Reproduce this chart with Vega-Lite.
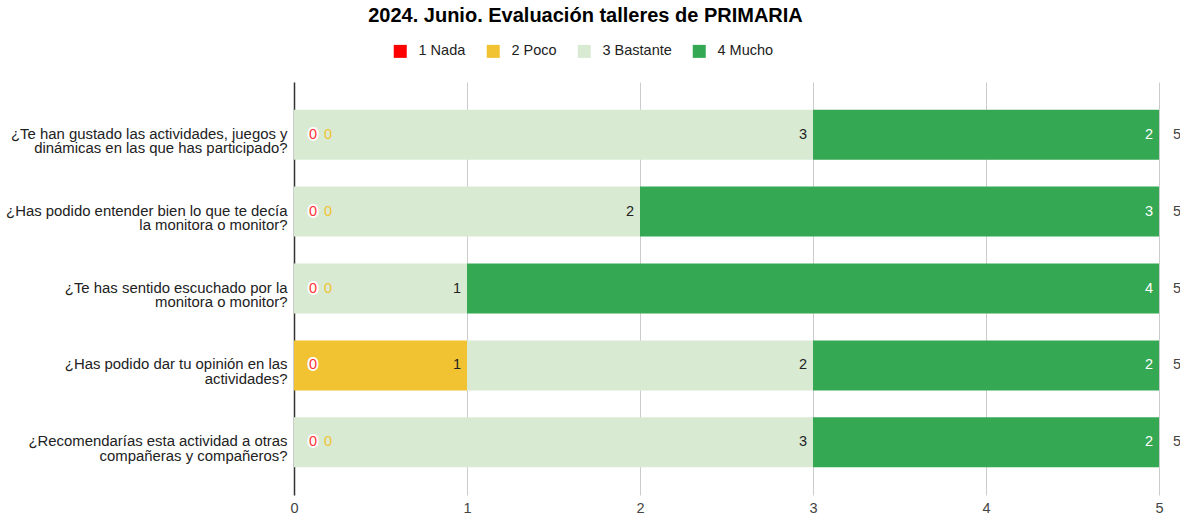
{
  "$schema": "https://vega.github.io/schema/vega-lite/v6.json",
  "autosize": {"type": "none"},
  "width": 865,
  "height": 413,
  "padding": {"left": 294, "top": 82, "right": 21, "bottom": 19},
  "background": "white",
  "title": {
    "text": "2024. Junio. Evaluación talleres de PRIMARIA",
    "anchor": "middle",
    "dx": -141,
    "offset": 18,
    "fontSize": 20,
    "fontWeight": "bold",
    "font": "Liberation Sans",
    "color": "#000000"
  },
  "config": {
    "font": "Liberation Sans",
    "view": {"stroke": null},
    "text": {"font": "Liberation Sans", "fontSize": 14.5}
  },
  "data": {
    "values": [
      {"q": "¿Te han gustado las actividades, juegos y|dinámicas en las que has participado?", "cat": "1 Nada", "value": 0},
      {"q": "¿Te han gustado las actividades, juegos y|dinámicas en las que has participado?", "cat": "2 Poco", "value": 0},
      {"q": "¿Te han gustado las actividades, juegos y|dinámicas en las que has participado?", "cat": "3 Bastante", "value": 3},
      {"q": "¿Te han gustado las actividades, juegos y|dinámicas en las que has participado?", "cat": "4 Mucho", "value": 2},
      {"q": "¿Has podido entender bien lo que te decía|la monitora o monitor?", "cat": "1 Nada", "value": 0},
      {"q": "¿Has podido entender bien lo que te decía|la monitora o monitor?", "cat": "2 Poco", "value": 0},
      {"q": "¿Has podido entender bien lo que te decía|la monitora o monitor?", "cat": "3 Bastante", "value": 2},
      {"q": "¿Has podido entender bien lo que te decía|la monitora o monitor?", "cat": "4 Mucho", "value": 3},
      {"q": "¿Te has sentido escuchado por la|monitora o monitor?", "cat": "1 Nada", "value": 0},
      {"q": "¿Te has sentido escuchado por la|monitora o monitor?", "cat": "2 Poco", "value": 0},
      {"q": "¿Te has sentido escuchado por la|monitora o monitor?", "cat": "3 Bastante", "value": 1},
      {"q": "¿Te has sentido escuchado por la|monitora o monitor?", "cat": "4 Mucho", "value": 4},
      {"q": "¿Has podido dar tu opinión en las|actividades?", "cat": "1 Nada", "value": 0},
      {"q": "¿Has podido dar tu opinión en las|actividades?", "cat": "2 Poco", "value": 1},
      {"q": "¿Has podido dar tu opinión en las|actividades?", "cat": "3 Bastante", "value": 2},
      {"q": "¿Has podido dar tu opinión en las|actividades?", "cat": "4 Mucho", "value": 2},
      {"q": "¿Recomendarías esta actividad a otras|compañeras y compañeros?", "cat": "1 Nada", "value": 0},
      {"q": "¿Recomendarías esta actividad a otras|compañeras y compañeros?", "cat": "2 Poco", "value": 0},
      {"q": "¿Recomendarías esta actividad a otras|compañeras y compañeros?", "cat": "3 Bastante", "value": 3},
      {"q": "¿Recomendarías esta actividad a otras|compañeras y compañeros?", "cat": "4 Mucho", "value": 2}
    ]
  },
  "transform": [
    {"stack": "value", "groupby": ["q"], "sort": [{"field": "cat", "order": "ascending"}], "as": ["v0", "v1"]}
  ],
  "encoding": {
    "y": {
      "field": "q",
      "type": "nominal",
      "sort": null,
      "title": null,
      "scale": {"paddingInner": 0.35, "paddingOuter": 0.36},
      "axis": {
        "labelExpr": "split(datum.label, '|')",
        "labelFontSize": 14.9,
        "labelColor": "#222222",
        "labelLineHeight": 14.5,
        "labelLimit": 400,
        "labelPadding": 7,
        "ticks": false,
        "domain": true,
        "domainColor": "#333333",
        "domainWidth": 1.5,
        "grid": false
      }
    }
  },
  "layer": [
    {
      "mark": {"type": "bar"},
      "encoding": {
        "x": {
          "field": "v0",
          "type": "quantitative",
          "title": null,
          "scale": {"domain": [0, 5], "nice": false},
          "axis": {
            "values": [0, 1, 2, 3, 4, 5],
            "format": "d",
            "labelFlush": false,
            "grid": true,
            "gridColor": "#cccccc",
            "domain": false,
            "ticks": false,
            "labelFontSize": 14.5,
            "labelColor": "#444444",
            "labelPadding": 6
          }
        },
        "x2": {"field": "v1"},
        "color": {
          "field": "cat",
          "type": "nominal",
          "scale": {
            "domain": ["1 Nada", "2 Poco", "3 Bastante", "4 Mucho"],
            "range": ["#ff0000", "#f1c232", "#d9ead3", "#34a853"]
          },
          "legend": {
            "title": null,
            "orient": "none",
            "direction": "horizontal",
            "legendX": 99,
            "legendY": -38,
            "symbolType": "square",
            "symbolSize": 169,
            "symbolStrokeWidth": 0,
            "labelFontSize": 14.5,
            "labelColor": "#222222",
            "labelOffset": 11,
            "columnPadding": 20
          }
        }
      }
    },
    {
      "transform": [{"filter": "datum.value > 0"}],
      "mark": {"type": "text", "align": "right", "baseline": "middle", "dx": -6},
      "encoding": {
        "x": {"field": "v1", "type": "quantitative"},
        "text": {"field": "value", "type": "quantitative"},
        "color": {"condition": {"test": "datum.cat === '4 Mucho'", "value": "#ffffff"}, "value": "#222222"}
      }
    },
    {
      "transform": [{"filter": "datum.value == 0 && datum.cat === '1 Nada'"}],
      "mark": {"type": "text", "align": "center", "baseline": "middle", "dx": 19, "fill": "#ffffff", "stroke": "#ffffff", "strokeWidth": 4},
      "encoding": {
        "x": {"field": "v1", "type": "quantitative"},
        "text": {"field": "value", "type": "quantitative"}
      }
    },
    {
      "transform": [{"filter": "datum.value == 0 && datum.cat === '1 Nada'"}],
      "mark": {"type": "text", "align": "center", "baseline": "middle", "dx": 19, "color": "#ff3333"},
      "encoding": {
        "x": {"field": "v1", "type": "quantitative"},
        "text": {"field": "value", "type": "quantitative"}
      }
    },
    {
      "transform": [{"filter": "datum.value == 0 && datum.cat === '2 Poco'"}],
      "mark": {"type": "text", "align": "center", "baseline": "middle", "dx": 34, "color": "#f1c232"},
      "encoding": {
        "x": {"field": "v1", "type": "quantitative"},
        "text": {"field": "value", "type": "quantitative"}
      }
    },
    {
      "transform": [{"aggregate": [{"op": "sum", "field": "value", "as": "total"}], "groupby": ["q"]}],
      "mark": {"type": "text", "align": "left", "baseline": "middle", "dx": 14, "color": "#444444"},
      "encoding": {
        "x": {"field": "total", "type": "quantitative"},
        "text": {"field": "total", "type": "quantitative"}
      }
    }
  ]
}
